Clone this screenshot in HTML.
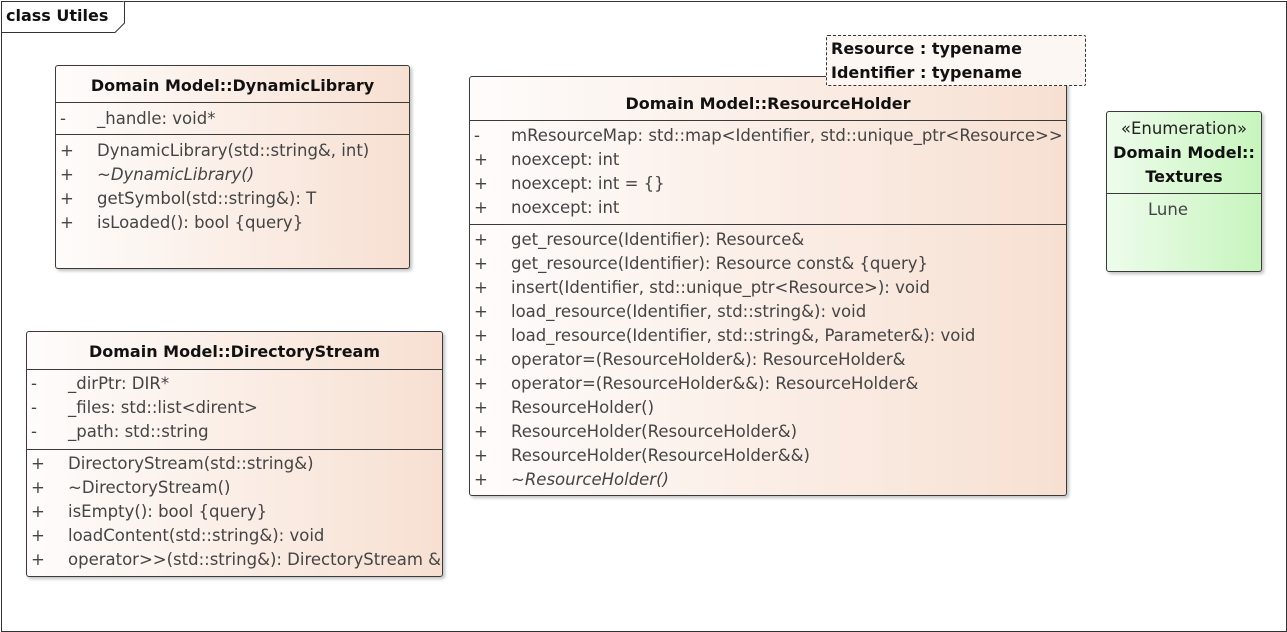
<!DOCTYPE html>
<html><head><meta charset="utf-8"><style>
body{margin:0;width:1287px;height:632px;background:#fff;position:relative;overflow:hidden;font-family:"DejaVu Sans",sans-serif;}
.a{position:absolute;}
.box{position:absolute;border:1px solid #3a3a3a;border-radius:3px;background:linear-gradient(to right,#fefcfb,#f7e0d2);box-shadow:2px 2px 3px rgba(0,0,0,0.25);box-sizing:border-box;}
.g{background:linear-gradient(to right,#eefcec,#c7f5bd);}
.hl{position:absolute;left:0;right:0;height:1px;background:#3a3a3a;}
.t{position:absolute;height:22px;line-height:22px;font-size:16.5px;white-space:nowrap;color:#444;}
.b{font-weight:bold;color:#111;font-size:16px;}
.c{left:0;right:0;text-align:center;}
.i{font-style:italic;}
</style></head><body>
<div class="a" style="left:1px;top:1px;width:1284px;height:629px;border:1px solid #333;"></div>
<svg class="a" style="left:0;top:0" width="140" height="40"><path d="M1.5 32.5 H115 L124.5 23 V1.5" fill="#fff" stroke="#333" stroke-width="1"/></svg>
<div class="t b" style="left:6px;top:5px;">class Utiles</div>

<div class="box" style="left:55px;top:65px;width:355px;height:204px;">
<div class="t b c" style="top:9px;">Domain Model::DynamicLibrary</div>
<div class="hl" style="top:36px"></div>
<div class="t" style="left:4px;top:42px;">-</div><div class="t" style="left:41px;top:42px;">_handle: void*</div>
<div class="hl" style="top:68px"></div>
<div class="t" style="left:4px;top:74px;">+</div><div class="t" style="left:41px;top:74px;">DynamicLibrary(std::string&amp;, int)</div>
<div class="t" style="left:4px;top:98px;">+</div><div class="t i" style="left:41px;top:98px;">~DynamicLibrary()</div>
<div class="t" style="left:4px;top:122px;">+</div><div class="t" style="left:41px;top:122px;">getSymbol(std::string&amp;): T</div>
<div class="t" style="left:4px;top:146px;">+</div><div class="t" style="left:41px;top:146px;">isLoaded(): bool {query}</div>
</div>

<div class="box" style="left:26px;top:331px;width:417px;height:246px;">
<div class="t b c" style="top:9px;">Domain Model::DirectoryStream</div>
<div class="hl" style="top:37px"></div>
<div class="t" style="left:4px;top:41px;">-</div><div class="t" style="left:41px;top:41px;">_dirPtr: DIR*</div>
<div class="t" style="left:4px;top:65px;">-</div><div class="t" style="left:41px;top:65px;">_files: std::list&lt;dirent&gt;</div>
<div class="t" style="left:4px;top:89px;">-</div><div class="t" style="left:41px;top:89px;">_path: std::string</div>
<div class="hl" style="top:117px"></div>
<div class="t" style="left:4px;top:121px;">+</div><div class="t" style="left:41px;top:121px;">DirectoryStream(std::string&amp;)</div>
<div class="t" style="left:4px;top:145px;">+</div><div class="t" style="left:41px;top:145px;">~DirectoryStream()</div>
<div class="t" style="left:4px;top:169px;">+</div><div class="t" style="left:41px;top:169px;">isEmpty(): bool {query}</div>
<div class="t" style="left:4px;top:193px;">+</div><div class="t" style="left:41px;top:193px;">loadContent(std::string&amp;): void</div>
<div class="t" style="left:4px;top:217px;">+</div><div class="t" style="left:41px;top:217px;">operator&gt;&gt;(std::string&amp;): DirectoryStream &amp;</div>
</div>

<div class="box" style="left:469px;top:76px;width:598px;height:420px;">
<div class="t b c" style="top:16px;">Domain Model::ResourceHolder</div>
<div class="hl" style="top:43px"></div>
<div class="t" style="left:4px;top:48px;">-</div><div class="t" style="left:41px;top:48px;">mResourceMap: std::map&lt;Identifier, std::unique_ptr&lt;Resource&gt;&gt;</div>
<div class="t" style="left:4px;top:72px;">+</div><div class="t" style="left:41px;top:72px;">noexcept: int</div>
<div class="t" style="left:4px;top:96px;">+</div><div class="t" style="left:41px;top:96px;">noexcept: int = {}</div>
<div class="t" style="left:4px;top:120px;">+</div><div class="t" style="left:41px;top:120px;">noexcept: int</div>
<div class="hl" style="top:147px"></div>
<div class="t" style="left:4px;top:152px;">+</div><div class="t" style="left:41px;top:152px;">get_resource(Identifier): Resource&amp;</div>
<div class="t" style="left:4px;top:176px;">+</div><div class="t" style="left:41px;top:176px;">get_resource(Identifier): Resource const&amp; {query}</div>
<div class="t" style="left:4px;top:200px;">+</div><div class="t" style="left:41px;top:200px;">insert(Identifier, std::unique_ptr&lt;Resource&gt;): void</div>
<div class="t" style="left:4px;top:224px;">+</div><div class="t" style="left:41px;top:224px;">load_resource(Identifier, std::string&amp;): void</div>
<div class="t" style="left:4px;top:248px;">+</div><div class="t" style="left:41px;top:248px;">load_resource(Identifier, std::string&amp;, Parameter&amp;): void</div>
<div class="t" style="left:4px;top:272px;">+</div><div class="t" style="left:41px;top:272px;">operator=(ResourceHolder&amp;): ResourceHolder&amp;</div>
<div class="t" style="left:4px;top:296px;">+</div><div class="t" style="left:41px;top:296px;">operator=(ResourceHolder&amp;&amp;): ResourceHolder&amp;</div>
<div class="t" style="left:4px;top:320px;">+</div><div class="t" style="left:41px;top:320px;">ResourceHolder()</div>
<div class="t" style="left:4px;top:344px;">+</div><div class="t" style="left:41px;top:344px;">ResourceHolder(ResourceHolder&amp;)</div>
<div class="t" style="left:4px;top:368px;">+</div><div class="t" style="left:41px;top:368px;">ResourceHolder(ResourceHolder&amp;&amp;)</div>
<div class="t" style="left:4px;top:392px;">+</div><div class="t i" style="left:41px;top:392px;">~ResourceHolder()</div>
</div>

<div class="a" style="left:826px;top:35px;width:260px;height:51px;border:1px dashed #333;border-radius:2px;background:#fdf7f3;box-sizing:border-box;"></div>
<div class="t b" style="left:831px;top:38px;">Resource : typename</div>
<div class="t b" style="left:831px;top:62px;">Identifier : typename</div>

<div class="box g" style="left:1106px;top:111px;width:156px;height:161px;">
<div class="t c" style="top:6px;color:#222;">«Enumeration»</div>
<div class="t b c" style="top:30px;">Domain Model::</div>
<div class="t b c" style="top:54px;">Textures</div>
<div class="hl" style="top:81px"></div>
<div class="t" style="left:41px;top:87px;">Lune</div>
</div>
</body></html>
